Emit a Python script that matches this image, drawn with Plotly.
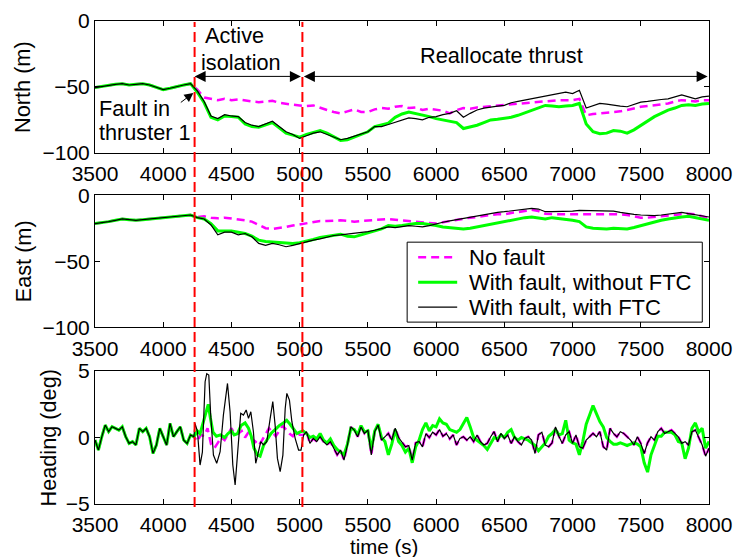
import plotly.graph_objects as go

# ---------------- data ----------------
fault_time = 4230
reconfig_time = 5020

t_pos = list(range(3500, 8001, 50))

north_nofault = [
    -50.5, -49.5, -49, -48, -47.5, -48.5, -48, -47.5, -48.5, -50,
    -52, -51, -49.5, -48.5, -47.5, -52, -58, -59, -60, -59,
    -60, -59.5, -60.5, -61, -61.5, -61, -60.5, -62, -63, -63.5,
    -64, -64.5, -64, -66, -67.5, -69, -70, -68.5, -67, -69,
    -69, -67, -66, -66.5, -65, -64.5, -66, -65.5, -67.5, -66.5,
    -67.5, -68, -70, -67.5, -66, -66.5, -65.5, -65, -65, -64,
    -64, -63, -62.5, -62, -61.5, -61, -61, -60.5, -60, -60,
    -60, -59, -71.5, -70.5, -70, -70, -69.5, -68.5, -67.5, -66,
    -65, -64.5, -64, -63, -62.5, -61, -60, -60.5, -61, -60,
    -60]
north_noftc = [
    -50.5, -49.5, -49, -48, -47.5, -48.5, -48, -47.5, -48.5, -50,
    -52, -51, -49.5, -48.5, -47.5, -54, -62, -73, -75, -72,
    -72.5, -73, -78, -80, -80.5, -79, -77, -81, -85, -86.5,
    -88, -86, -84.5, -83, -85, -88, -90.5, -90, -88, -86.5,
    -84, -80, -79, -77.5, -73, -70.5, -69, -70, -71.5, -72.5,
    -74, -75, -76.5, -77, -81.5, -80.5, -79, -77, -75, -74.5,
    -74, -73, -71.5, -69.5, -67.5, -65.5, -64, -64.5, -65, -64.5,
    -64, -62.5, -78, -84, -85.5, -85, -83, -83.5, -85, -82.5,
    -79, -76, -72.5, -70, -67.5, -66, -64, -63.5, -64, -63,
    -62.5]
north_ftc = [
    -50.5, -49.5, -49, -48, -47.5, -48.5, -48, -47.5, -48.5, -50,
    -52, -51, -49.5, -48.5, -47.5, -53, -61, -72, -74, -71,
    -72, -72.5, -77, -79, -80, -78, -76, -80, -84, -86,
    -89, -87, -85, -84, -86, -88, -90, -89, -87.5, -86,
    -84, -80, -80, -78.5, -77, -75, -73.5, -74, -75, -73,
    -72.5, -71, -70, -68, -73, -70, -67.5, -66, -65, -64.5,
    -64, -62, -61, -60, -59, -57.5, -56.5, -55.5, -55, -54,
    -55, -52.5, -66, -64, -62.5, -63, -64, -64.5, -65, -63,
    -61.5, -61, -60, -59.5, -59, -57.5, -56, -57.5, -59, -57.5,
    -57]

east_nofault = [
    -21.5, -21, -20, -19, -18, -18.5, -19, -18.5, -18, -17.5,
    -17, -16.5, -16, -15.5, -15, -16.5, -16, -17, -17.5, -17,
    -17.5, -18, -19, -20, -22.5, -25, -25.5, -25, -24, -23,
    -22, -21, -20, -19.5, -19.5, -19, -19, -19.5, -20, -19.5,
    -19, -19, -18.5, -18, -18.5, -19, -19.5, -20, -20.5, -21,
    -21.5, -20.5, -19.5, -18.5, -18, -17, -16.5, -15.5, -15, -14.5,
    -14.5, -13.5, -13, -12, -11, -12, -14, -14.5, -14.5, -14.5,
    -14.5, -14, -14, -14, -14, -14, -14, -14.5, -15, -16,
    -17, -17, -16.5, -16, -15.5, -14.5, -14, -14, -14.5, -16,
    -17.5]
east_noftc = [
    -21.5, -21, -20, -19, -18, -18.5, -19, -18.5, -18, -17.5,
    -17, -16.5, -16, -15.5, -15, -17, -18, -21.5, -27, -27,
    -27, -28, -29, -31, -34, -35, -35.5, -36, -36.5, -36.5,
    -36, -35, -33.5, -32, -31, -30, -29.5, -31, -31.5, -30,
    -28.5, -27, -25.5, -23, -23.5, -23, -22, -21.5, -21.5, -22,
    -23, -24, -24.5, -25, -25.5, -25, -24, -23, -21.5, -20.5,
    -19.5, -18.5, -17.5, -17, -16.5, -17, -18, -17, -17.5, -18,
    -19, -20, -24, -25, -25.5, -25.5, -25, -25.5, -25.5, -24.5,
    -23, -21.5, -20, -19, -18, -17, -16.5, -16, -17, -18,
    -19]
east_ftc = [
    -21.5, -21, -20, -19, -18, -18.5, -19, -18.5, -18, -17.5,
    -17, -16.5, -16, -15.5, -15, -17, -18, -22.5, -30, -28,
    -28, -30, -29, -31.5, -36.5, -38, -36.5, -37.5, -39, -38,
    -36.5, -35.5, -34, -33, -31.5, -30.5, -30, -29.5, -29, -28,
    -27.5, -26.5, -25.5, -24, -24.5, -24, -23, -23.5, -24, -23,
    -21.5, -20.5, -19.5, -18.5, -17.5, -16.5, -15.5, -14.5, -14, -13,
    -12.5, -12, -11.5, -11, -10, -10.5, -12.5, -12.5, -12.5, -12,
    -12, -11.5, -11.5, -11.5, -11.5, -12, -12, -13, -14, -14.5,
    -15, -15.5, -15.5, -15, -14.5, -13.5, -13, -14, -15, -15.5,
    -16.5]

t_head = list(range(3500, 8001, 25))
heading_nofault = [
    -0.19, -0.94, 0.06, 0.94, 0.44, 0.81, 0.69, 0.56, 0.81, 0.06,
    -0.44, -0.31, -0.56, 0.69, 0.44, 0.69, 0.06, -1.19, -0.56, 0.69,
    0.06, -0.56, 1.06, 0.06, 0.44, 0.81, -0.19, -0.44, 0.19, 0.06,
    -0.3, 0.2, 0.1, 0.7, -0.5, -0.8, -0.4, 0.0, -0.2, 0.3,
    0.7, 0.2, 0.3, 0.5, 0.0, 0.4, -0.1, -0.3, -0.6, -0.2,
    0.3, 0.7, 0.4, 0.1, 0.5, 0.9, 0.6, 0.3, 0.1, 0.5,
    0.2, 0.19, 0.44, -0.44, -0.06, -0.31, 0.06, -0.31, -0.56, -0.31,
    -0.81, -1.3, -0.94, -1.7, -0.56, 0.8, 0.56, 0.06, 0.8, 0.31,
    0.56, -1.3, 0.44, 0.94, -0.19, 0.06, 0.31, -0.2, 0.7, 0.0,
    -0.4, -0.7, -0.6, -1.7, -0.4, -0.3, -0.7, 0.3, 0.0, 0.4,
    0.2, 0.6, 0.1, 0.3, -0.1, 0.2, -0.56, -0.06, 0.06, -0.19,
    0.06, -0.31, 0.19, -0.31, -0.56, -0.44, 0.06, 0.44, -0.31, 0.31,
    -0.06, 0.19, -0.44, 0.06, -0.31, -0.56, -0.06, 0.06, -0.19, -1.2,
    0.2, 0.4, -0.56, -0.69, -0.4, 0.8, 0.1, -0.44, 0.2, 0.44,
    -0.44, 0.2, -0.69, -0.8, -0.19, 0.06, 0.31, 0.06, 0.44, -0.69,
    -0.94, 0.69, 0.31, 0.06, 0.44, 0.31, 0.06, -0.19, -0.56, 0.06,
    -0.44, -1.2, -0.4, 0.06, -0.19, 0.44, 0.69, 0.31, 0.44, 0.56,
    0.31, 0.06, -0.44, -0.31, -0.56, 0.44, 0.56, 0.06, -0.56, -1.4,
    -0.8]

# heading during active isolation, with FTC
t_iso_ftc = [4233, 4251, 4270, 4287, 4307, 4319, 4334, 4348, 4368, 4392,
             4417, 4441, 4471, 4490, 4510, 4527, 4544, 4568, 4588, 4608,
             4625, 4642, 4661, 4678, 4698, 4715, 4735, 4759, 4784, 4803,
             4820, 4837, 4857, 4877, 4894, 4906, 4925, 4943, 4967, 4992,
             5010, 5029]
heading_iso_ftc = [1.06, 0.44, -2.07, -1.1, 4.2, 4.8, 4.7, 1.7, -1.32, -1.94,
                   -1.07, 1.69, 4.07, 1.94, -2.07, -3.57, -1.32, 1.82, 1.69, 2.07,
                   1.44, 1.94, 0.44, -1.94, -1.07, -0.31, -0.56, -0.31, 1.44, 2.7,
                   0.94, -1.57, -2.57, -1.32, 2.19, 3.32, 2.82, 1.19, -0.06, -0.94,
                   -0.94, 0.19]

# heading during active isolation, without FTC
t_iso_noftc = [4233, 4250, 4270, 4290, 4310, 4330, 4345, 4365, 4390, 4420,
               4450, 4475, 4500, 4520, 4545, 4570, 4600, 4625, 4645, 4665,
               4690, 4710, 4735, 4760, 4790, 4820, 4850, 4880, 4905, 4930,
               4955, 4980, 5000, 5025]
heading_iso_noftc = [0.2, 0.5, 0.3, 1.0, 1.6, 2.5, 1.5, 0.4, 0.1, 0.2,
                     0.0, 0.3, 0.5, 0.2, 0.3, 0.9, 1.1, 0.7, 0.1, -0.8,
                     -1.3, -1.4, -0.6, -0.2, 0.3, 0.6, 0.9, 1.1, 1.3, 1.0,
                     0.6, 0.3, 0.4, 0.5]

# heading after isolation, without FTC
t_post_noftc = list(range(5050, 8001, 25))
heading_post_noftc = [
    0.3, 0.0, 0.1, -0.1, 0.3, -0.2, -0.4, -0.1, -0.6, -0.9,
    -1.1, -1.3, -0.5, 0.7, 0.6, 0.2, 0.9, 0.4,
    0.5, -0.9, 0.5, 1.0, 0.0, -0.3, -1.3, -0.5, 0.6, -0.3,
    -0.6, -1.1, -0.8, -1.9, -0.7, -0.2, 0.6, 1.1, 0.5, 0.9,
    0.8, 1.4, 1.1, 1.0, 0.6, 0.5, 0.4, 0.6, 1.0, 1.5,
    0.8, 0.0, -0.2, -0.4, -0.6, -0.9, -0.5, 0.0, -0.1, 0.2,
    0.0, 0.4, 0.6, 0.0, -0.2, 0.0, -0.1, -0.2, -0.4, -0.6,
    -1.0, -0.7, -0.4, 0.1, 0.3, 0.6, 0.2, 0.3, 1.3, -0.2,
    -0.4, -0.5, -1.3, -0.3, 1.0, 1.7, 2.4, 1.8, 1.2, 0.8,
    0.0, -0.3, -0.5, -0.5, -0.4, -0.5, -0.6, -0.5, -0.4, -0.5,
    -0.7, -1.9, -2.6, -1.3, -0.6, 0.1, 0.1, 0.4, 0.4, 0.4,
    0.2, -0.3, -0.4, -1.6, -0.8, 0.7, 1.1, 0.4, 0.7, -0.8,
    -0.3]

x_ticks = list(range(3500, 8001, 500))
series_names = ["No fault", "With fault, without FTC", "With fault, with FTC"]

# ---------------- assemble heading series ----------------
pre = [(t, v) for t, v in zip(t_head, heading_nofault) if t < fault_time]
ftc_pts = pre + list(zip(t_iso_ftc, heading_iso_ftc)) + \
    [(t, v) for t, v in zip(t_head, heading_nofault) if t > t_iso_ftc[-1]]
noftc_pts = pre + list(zip(t_iso_noftc, heading_iso_noftc)) + \
    list(zip(t_post_noftc, heading_post_noftc))

# ---------------- figure ----------------
FONT = "Liberation Sans, Arial, Helvetica, sans-serif"
FS = 21
FA = 21.7
MAG = dict(color="#ff00ff", width=2.5, dash="8px,5px")
GRN = dict(color="#00ff00", width=3)
BLK = dict(color="#000000", width=1.2)
styles = [MAG, GRN, BLK]

fig = go.Figure()
panels = [
    ("x", "y", t_pos, north_nofault, north_noftc, north_ftc, t_pos, t_pos),
    ("x2", "y2", t_pos, east_nofault, east_noftc, east_ftc, t_pos, t_pos),
    ("x3", "y3", t_head, heading_nofault,
     [v for _, v in noftc_pts], [v for _, v in ftc_pts],
     [t for t, _ in noftc_pts], [t for t, _ in ftc_pts]),
]
for i, (xa, ya, tm, nf, nftc, ftc, tn, tf) in enumerate(panels):
    fig.add_trace(go.Scatter(x=tm, y=nf, mode="lines", line=MAG, name=series_names[0],
                             xaxis=xa, yaxis=ya, showlegend=False))
    fig.add_trace(go.Scatter(x=tn, y=nftc, mode="lines", line=GRN, name=series_names[1],
                             xaxis=xa, yaxis=ya, showlegend=False))
    fig.add_trace(go.Scatter(x=tf, y=ftc, mode="lines", line=BLK, name=series_names[2],
                             xaxis=xa, yaxis=ya, showlegend=False))

axis_common = dict(showline=True, linecolor="black", linewidth=1, mirror="ticks",
                   ticks="inside", ticklen=5, tickcolor="black", showgrid=False,
                   zeroline=False, tickfont=dict(family=FONT, size=FS, color="black"))

doms = [(0.7269, 1.0), (0.3656, 0.6394), (0.0, 0.2752)]
for i, (d0, d1) in enumerate(doms):
    suffix = "" if i == 0 else str(i + 1)
    fig.layout["xaxis" + suffix] = dict(axis_common, range=[3500, 8000], tickvals=x_ticks,
                                        anchor="y" + suffix, domain=[0, 1],
                                        ticklabelstandoff=2)
    if i < 2:
        yr, yt = [-100, 0], [-100, -50, 0]
    else:
        yr, yt = [-5, 5], [-5, 0, 5]
    fig.layout["yaxis" + suffix] = dict(axis_common, range=yr, tickvals=yt,
                                        anchor="x" + suffix, domain=[d0, d1])

# red dashed event lines spanning all panels
for tv in (fault_time, reconfig_time):
    fig.add_shape(type="line", xref="x", yref="paper", x0=tv, x1=tv, y0=-0.006, y1=0.998,
                  line=dict(color="#ff0000", width=2, dash="10px,5px"), layer="above")

ann = []
txt = dict(family=FONT, size=FA, color="black")
# y titles
for label, xp, yp in [("North (m)", -0.1173, 0.8635), ("East (m)", -0.1173, 0.5025),
                      ("Heading (deg)", -0.075, 0.1376)]:
    ann.append(dict(text=label, xref="paper", yref="paper", x=xp, y=yp, textangle=-90,
                    showarrow=False, font=txt, xanchor="center", yanchor="middle"))
ann.append(dict(text="time (s)", xref="paper", yref="paper", x=0.471, y=-0.0875,
                showarrow=False, font=dict(family=FONT, size=20.5, color="black"),
                xanchor="center", yanchor="middle"))
# top panel texts
ann += [
    dict(text="Active", x=4292, y=-10.8, xref="x", yref="y", showarrow=False, font=txt,
         xanchor="left", yanchor="middle"),
    dict(text="isolation", x=4262, y=-31.3, xref="x", yref="y", showarrow=False, font=txt,
         xanchor="left", yanchor="middle"),
    dict(text="Reallocate thrust", x=6477, y=-26, xref="x", yref="y", showarrow=False,
         font=txt, xanchor="center", yanchor="middle"),
    dict(text="Fault in", x=3515, y=-66, xref="x", yref="y", showarrow=False, font=txt,
         xanchor="left", yanchor="middle"),
    dict(text="thruster 1", x=3515, y=-84.3, xref="x", yref="y", showarrow=False, font=txt,
         xanchor="left", yanchor="middle"),
    # arrows
    dict(text="", x=fault_time, y=-42, ax=reconfig_time, ay=-42, xref="x", yref="y",
         axref="x", ayref="y", showarrow=True, arrowhead=2, startarrowhead=2,
         arrowside="end+start", arrowsize=2.2, startarrowsize=2.2, arrowwidth=1,
         arrowcolor="black", standoff=0, startstandoff=0),
    dict(text="", x=7990, y=-42, ax=reconfig_time, ay=-42, xref="x", yref="y",
         axref="x", ayref="y", showarrow=True, arrowhead=2, startarrowhead=2,
         arrowside="end+start", arrowsize=2.2, startarrowsize=2.2, arrowwidth=1,
         arrowcolor="black", standoff=0, startstandoff=0),
    dict(text="", x=4221, y=-54.5, ax=4118, ay=-62.6, xref="x", yref="y",
         axref="x", ayref="y", showarrow=True, arrowhead=2, arrowsize=1.8, arrowwidth=1,
         arrowcolor="black", standoff=0),
]

# legend box (drawn in the middle panel, paper coordinates)
def px2paper_x(px):
    return (px - 95) / 613.7


def px2paper_y(py):
    return (504 - py) / 483.3


fig.add_shape(type="rect", xref="paper", yref="paper",
              x0=px2paper_x(407), x1=px2paper_x(702), y0=px2paper_y(322), y1=px2paper_y(242),
              line=dict(color="black", width=1), fillcolor="white", layer="above")
for k, (name, st) in enumerate(zip(series_names, styles)):
    yy = px2paper_y(257 + 25 * k)
    fig.add_shape(type="line", xref="paper", yref="paper",
                  x0=px2paper_x(418), x1=px2paper_x(457), y0=yy, y1=yy,
                  line=st, layer="above")
    ann.append(dict(text=name, xref="paper", yref="paper", x=px2paper_x(467), y=yy,
                    showarrow=False, font=dict(family=FONT, size=22, color="black"),
                    xanchor="left", yanchor="middle"))

fig.update_layout(
    width=737, height=557,
    margin=dict(l=95, r=28, t=21, b=53, autoexpand=False),
    paper_bgcolor="white", plot_bgcolor="white",
    font=dict(family=FONT, size=FS, color="black"),
    annotations=ann,
    showlegend=False,
)

fig.write_html("out.html")
